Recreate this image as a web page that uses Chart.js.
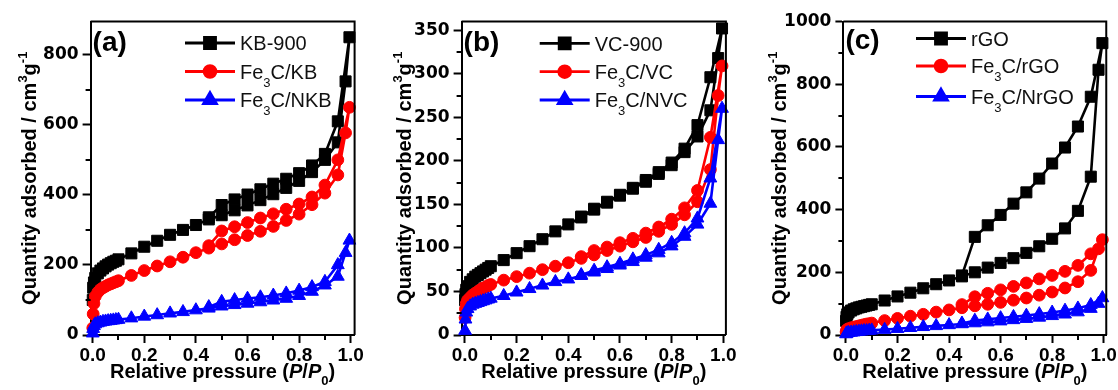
<!DOCTYPE html>
<html><head><meta charset="utf-8">
<script src="https://cdn.jsdelivr.net/npm/chart.js@4.4.1/dist/chart.umd.min.js"></script>
<style>
html,body{margin:0;padding:0;background:#fff;}
#wrap{position:relative;width:1118px;height:390px;overflow:hidden;background:#fff;}
canvas{position:absolute;top:0;}
</style></head><body>
<div id="wrap">
<canvas id="ca" width="372" height="390" style="left:0px"></canvas>
<canvas id="cb" width="373" height="390" style="left:372px"></canvas>
<canvas id="cc" width="373" height="390" style="left:745px"></canvas>
</div>
<script>
// ---------- data ----------
const adsP = [0.0005,0.002,0.005,0.01,0.02,0.03,0.04,0.05,0.06,0.07,0.08,0.09,0.10,0.15,0.20,0.25,0.30,0.35,0.40,0.45,0.50,0.55,0.60,0.65,0.70,0.75,0.80,0.85,0.90,0.95,0.98,0.995];
const desP = [0.95,0.90,0.85,0.80,0.75,0.70,0.65,0.60,0.55,0.50,0.45];

// panel (a)
const kb900Ads = [100,135,150,163,176,184,190,196,201,205,209,212,216,233,252,269,286,300,314,330,342,356,370,385,402,420,440,465,500,550,724,850];
const kb900Des = [610,517,484,462,446,432,416,401,387,371,336];
const fe3cKbAds = [20,60,90,110,122,130,135,139,143,146,149,152,155,170,184,197,209,222,235,248,260,272,284,296,310,327,345,372,405,457,577,650];
const fe3cKbDes = [500,428,394,374,359,346,334,321,309,297,255];
const fe3cNkbAds = [5,18,26,31,34,36,38,39,40,41,42,43,44,48,53,57,62,66,71,76,82,86,90,94,99,104,112,124,142,167,235,270];
const fe3cNkbDes = [200,152,137,127,119,113,108,104,100,95,80];

// panel (b)
const vc900Ads = [40,47,52,56,61,64,67,69,71,73,75,77,79,86,94,102,110,119,127,135,144,152,160,168,176,185,195,210,228,258,318,352];
const vc900Des = [296,241,214,198,187,178,169,161,153,145,136];
const fe3cVcAds = [20,30,36,40,43,46,48,50,52,54,55,57,58,63,67,71,75,79,83,88,92,97,102,107,112,119,127,138,153,190,275,309];
const fe3cVcDes = [227,166,146,133,124,117,111,106,101,97,90];
const fe3cNvcAds = [5,18,26,30,33,35,36,37,38,39,40,41,42,45,49,53,57,61,64,68,72,76,80,84,89,94,102,113,127,151,224,260];
const fe3cNvcDes = [180,134,117,106,98,92,87,82,78,74,69];

// panel (c)
const rgoAds = [45,58,66,72,78,82,85,88,90,92,94,96,98,110,123,135,149,162,174,187,200,215,230,245,262,283,307,340,396,505,846,931];
const rgoDes = [760,665,598,547,499,455,419,383,350,313,190];
const fe3cRgoAds = [10,15,18,20,23,25,27,29,31,33,35,36,38,46,53,60,66,73,80,87,93,98,104,111,118,127,137,150,170,206,275,304];
const fe3cRgoDes = [259,222,203,190,179,166,155,144,133,122,97];
const fe3cNrgoAds = [3,5,6,7,8,9,10,11,12,13,13,14,15,17,20,23,26,29,32,35,38,41,44,48,52,56,61,66,73,84,100,118];
const fe3cNrgoDes = [96,85,78,72,67,62,58,54,50,46,37];

// labels and ticks
const labelsA = ['KB-900','Fe₃C/KB','Fe₃C/NKB'];
const labelsB = ['VC-900','Fe₃C/VC','Fe₃C/NVC'];
const labelsC = ['rGO','Fe₃C/rGO','Fe₃C/NrGO'];
const panelLabels = ['(a)','(b)','(c)'];
const xMajorVals = [0,0.2,0.4,0.6,0.8,1.0];
const xMajorLabels = ['0.0','0.2','0.4','0.6','0.8','1.0'];
const xMinorVals = [0.1,0.3,0.5,0.7,0.9];
const yMajorA = [0,200,400,600,800];
const yMinorA = [100,300,500,700];
const yMajorB = [0,50,100,150,200,250,300,350];
const yMinorB = [25,75,125,175,225,275,325];
const yMajorC = [0,200,400,600,800,1000];
const yMinorC = [100,300,500,700,900];

// ---------- helpers ----------
const FAM = '"Liberation Sans", Arial, Helvetica, sans-serif';
const FAMY = '"DejaVu Sans", "Liberation Sans", Arial, sans-serif';
const F = (size, weight, style) => `${style||'normal'} ${weight||'normal'} ${size}px ${FAM}`;
function loop(ads, des) {
  const pts = adsP.map((x, i) => ({x: x, y: ads[i]}));
  return pts.concat(desP.map((x, i) => ({x: x, y: des[i]})));
}
const STY = [
  {color:'#000000', pointStyle:'rect', radius:7.8},
  {color:'#ff0000', pointStyle:'circle', radius:5.9},
  {color:'#0000ff', pointStyle:'triangle', radius:7.4}
];
function makeDatasets(labels, series) {
  return series.map((s, i) => ({
    label: labels[i],
    data: loop(s[0], s[1]),
    showLine: true,
    borderColor: STY[i].color,
    backgroundColor: STY[i].color,
    borderWidth: 2.6,
    pointStyle: STY[i].pointStyle,
    pointRadius: STY[i].radius,
    pointBorderWidth: 1,
    pointHoverRadius: STY[i].radius,
    tension: 0,
    clip: false,
    order: 3 - i
  }));
}
function richWidth(ctx, segs) {
  let w = 0;
  for (const s of segs) { ctx.font = s.font; w += ctx.measureText(s.t).width; }
  return w;
}
function drawRich(ctx, segs, x, y, align) {
  const w = richWidth(ctx, segs);
  let cx = align === 'center' ? x - w / 2 : x;
  ctx.textAlign = 'left';
  ctx.textBaseline = 'alphabetic';
  for (const s of segs) {
    ctx.font = s.font;
    ctx.fillText(s.t, cx, y + (s.dy || 0));
    cx += ctx.measureText(s.t).width;
  }
}
function labelSegs(label) {
  const parts = label.split('₃');
  if (parts.length === 1) return [{t: label, font: F(20)}];
  return [{t: parts[0], font: F(20)}, {t: '3', font: F(13), dy: 8}, {t: parts[1], font: F(20)}];
}

const decor = {
  id: 'decor',
  afterDraw(chart, args, o) {
    const ctx = chart.ctx, a = chart.chartArea;
    const xs = chart.scales.x, ys = chart.scales.y;
    ctx.save();
    ctx.strokeStyle = '#000';
    ctx.lineWidth = 2;
    // top and right frame
    ctx.beginPath();
    ctx.moveTo(a.left, a.top); ctx.lineTo(a.right, a.top); ctx.lineTo(a.right, a.bottom);
    ctx.stroke();
    // minor ticks
    ctx.beginPath();
    for (const v of xMinorVals) {
      const px = Math.round(xs.getPixelForValue(v));
      ctx.moveTo(px, a.bottom); ctx.lineTo(px, a.bottom + 5);
    }
    for (const v of o.yMinor) {
      const py = Math.round(ys.getPixelForValue(v));
      ctx.moveTo(a.left - 5, py); ctx.lineTo(a.left, py);
    }
    ctx.stroke();
    ctx.fillStyle = '#000';
    // panel label
    ctx.font = F(28, 'bold');
    ctx.textAlign = 'left'; ctx.textBaseline = 'alphabetic';
    ctx.fillText(o.panel, a.left + 2, o.panelY);
    // x title
    drawRich(ctx, [
      {t: 'Relative pressure (', font: F(20, 'bold')},
      {t: 'P', font: F(20, 'bold', 'italic')},
      {t: '/', font: F(20, 'bold')},
      {t: 'P', font: F(20, 'bold', 'italic')},
      {t: '0', font: F(13, 'bold'), dy: 7},
      {t: ')', font: F(20, 'bold')}
    ], (a.left + a.right) / 2, 378, 'center');
    // y title
    ctx.save();
    ctx.translate(a.left - o.yTitleOff, (a.top + a.bottom) / 2);
    ctx.rotate(-Math.PI / 2);
    drawRich(ctx, [
      {t: 'Quantity adsorbed / cm', font: F(20, 'bold')},
      {t: '3', font: F(13, 'bold'), dy: -9},
      {t: 'g', font: F(20, 'bold')},
      {t: '-1', font: F(13, 'bold'), dy: -9}
    ], 0, 0, 'center');
    ctx.restore();
    // legend
    chart.data.datasets.forEach((ds, i) => {
      const y = o.legRows[i];
      ctx.strokeStyle = ds.borderColor;
      ctx.lineWidth = 2.8;
      ctx.beginPath();
      ctx.moveTo(o.legX0, y); ctx.lineTo(o.legX0 + 50, y);
      ctx.stroke();
      ctx.fillStyle = ds.backgroundColor;
      Chart.helpers.drawPoint(ctx, {pointStyle: ds.pointStyle, radius: ds.pointRadius, rotation: 0, borderWidth: 1}, o.legX0 + 25, y);
      ctx.fillStyle = '#111';
      drawRich(ctx, labelSegs(ds.label), o.legX0 + 55, y + 7.3, 'left');
    });
    ctx.restore();
  }
};

function makeChart(id, p) {
  const xTickFont = {family: FAM, size: 19, weight: 'bold'};
  const yTickFont = {family: FAMY, size: 17, weight: 'bold'};
  return new Chart(document.getElementById(id), {
    type: 'scatter',
    data: {datasets: makeDatasets(p.labels, p.series)},
    plugins: [decor],
    options: {
      responsive: false,
      animation: false,
      devicePixelRatio: 1,
      layout: {padding: {top: 21.5, right: p.padR, bottom: 0, left: 0}},
      plugins: {
        legend: {display: false},
        tooltip: {enabled: false},
        decor: {yMinor: p.yMinor, panel: p.panel, panelY: p.panelY, yTitleOff: p.yTitleOff, legRows: p.legRows, legX0: p.legX0}
      },
      scales: {
        x: {
          type: 'linear', min: p.xmin, max: p.xmax,
          afterBuildTicks: s => { s.ticks = xMajorVals.map(v => ({value: v})); },
          afterFit: s => { s.height = 55; },
          ticks: {autoSkip: false, maxRotation: 0, padding: 1, color: '#000', font: xTickFont,
            callback: (v) => xMajorLabels[xMajorVals.indexOf(v)] ?? ''},
          grid: {display: true, drawOnChartArea: false, drawTicks: true, tickLength: 8, tickWidth: 2, tickColor: '#000'},
          border: {display: true, color: '#000', width: 2}
        },
        y: {
          type: 'linear', min: 0, max: p.ymax,
          afterBuildTicks: s => { s.ticks = p.yMajor.map(v => ({value: v})); },
          afterFit: s => { s.width = p.yW; },
          ticks: {autoSkip: false, padding: 4, color: '#000', font: yTickFont,
            callback: (v) => String(v)},
          grid: {display: true, drawOnChartArea: false, drawTicks: true, tickLength: 8, tickWidth: 2, tickColor: '#000'},
          border: {display: true, color: '#000', width: 2}
        }
      }
    }
  });
}

makeChart('ca', {
  labels: labelsA, panel: panelLabels[0],
  series: [[kb900Ads, kb900Des], [fe3cKbAds, fe3cKbDes], [fe3cNkbAds, fe3cNkbDes]],
  xmin: -0.008, xmax: 1.015, ymax: 895, yMajor: yMajorA, yMinor: yMinorA,
  yW: 90.6, padR: 17.4, panelY: 51, yTitleOff: 55, legRows: [43, 71.5, 100], legX0: 185
});
makeChart('cb', {
  labels: labelsB, panel: panelLabels[1],
  series: [[vc900Ads, vc900Des], [fe3cVcAds, fe3cVcDes], [fe3cNvcAds, fe3cNvcDes]],
  xmin: -0.013, xmax: 1.01, ymax: 360, yMajor: yMajorB, yMinor: yMinorB,
  yW: 89.6, padR: 19.1, panelY: 51, yTitleOff: 51, legRows: [43.3, 71.7, 100], legX0: 167.7
});
makeChart('cc', {
  labels: labelsC, panel: panelLabels[2],
  series: [[rgoAds, rgoDes], [fe3cRgoAds, fe3cRgoDes], [fe3cNrgoAds, fe3cNrgoDes]],
  xmin: -0.01, xmax: 1.01, ymax: 1000, yMajor: yMajorC, yMinor: yMinorC,
  yW: 98.4, padR: 11.4, panelY: 49, yTitleOff: 57, legRows: [38.5, 66, 96.5], legX0: 171
});
</script>
</body></html>
